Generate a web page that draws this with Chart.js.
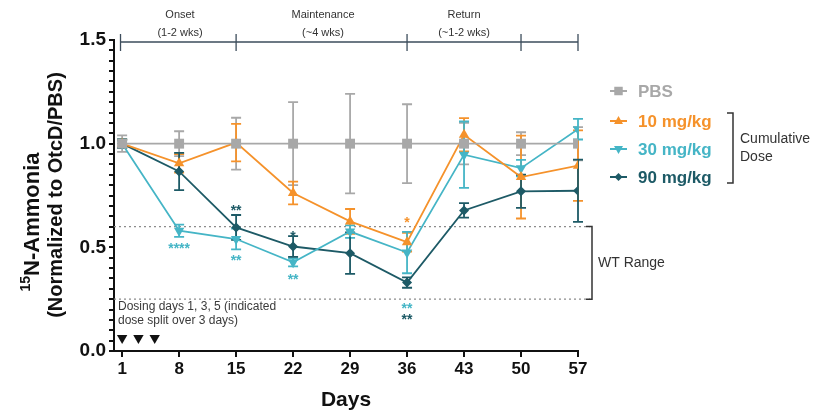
<!DOCTYPE html>
<html lang="en">
<head>
    <meta charset="UTF-8">
    <title>15N-Ammonia over time</title>
    <style>
        html, body { margin: 0; padding: 0; background: #ffffff; }
        canvas { display: block; }
    </style>
</head>
<body>
    <canvas id="ammonia-chart" width="817" height="419"></canvas>

    <script src="https://cdn.jsdelivr.net/npm/chart.js"></script>
    <script>
        // --- data ---
        const days = [1, 8, 15, 22, 29, 36, 43, 50, 57];

        const pbs      = [1.0, 1.0, 1.0, 1.0, 1.0, 1.0, 1.0, 1.0, 1.0];
        const pbsErr   = [0.04, 0.06, 0.125, 0.2, 0.24, 0.19, 0.1, 0.055, 0.08];
        const dose10   = [1.0, 0.905, 1.005, 0.762, 0.625, 0.525, 1.043, 0.839, 0.894];
        const dose10Err = [0.02, 0.045, 0.09, 0.055, 0.06, 0.045, 0.08, 0.2, 0.17];
        const dose30   = [1.0, 0.58, 0.54, 0.428, 0.576, 0.475, 0.947, 0.882, 1.07];
        const dose30Err = [0.02, 0.03, 0.05, 0.02, 0.03, 0.1, 0.16, 0.04, 0.05];
        const dose90   = [1.0, 0.866, 0.596, 0.504, 0.472, 0.33, 0.678, 0.77, 0.773];
        const dose90Err = [0.02, 0.09, 0.06, 0.05, 0.1, 0.025, 0.035, 0.08, 0.15];

        const dosingDays = [1, 3, 5];
        const wtRange = [0.25, 0.6];
        const phaseEdges = [0.8, 15, 36, 50, 57];
        const phaseNames = ['Onset', 'Maintenance', 'Return'];
        const phaseSpans = ['(1-2 wks)', '(~4 wks)', '(~1-2 wks)'];
        const yTicksMajor = [0, 0.5, 1.0, 1.5];

        // significance marks: [day, y value, text, series]
        const stars = [
            [8, 0.51, '****', 'c30'],
            [15, 0.695, '**', 'c90'],
            [15, 0.452, '**', 'c30'],
            [22, 0.57, '*', 'c90'],
            [22, 0.36, '**', 'c30'],
            [36, 0.638, '*', 'c10'],
            [36, 0.22, '**', 'c30'],
            [36, 0.166, '**', 'c90']
        ];

        const colors = { pbs: '#a8a8a8', c10: '#f5922b', c30: '#45b5c6', c90: '#1d5a66' };
        const FONT = '"Liberation Sans", Arial, sans-serif';

        const series = [
            { label: 'PBS', data: pbs, err: pbsErr, color: colors.pbs, style: 'rect', radius: 7, rotation: 0 },
            { label: '10 mg/kg', data: dose10, err: dose10Err, color: colors.c10, style: 'triangle', radius: 6, rotation: 0 },
            { label: '30 mg/kg', data: dose30, err: dose30Err, color: colors.c30, style: 'triangle', radius: 6, rotation: 180 },
            { label: '90 mg/kg', data: dose90, err: dose90Err, color: colors.c90, style: 'rectRot', radius: 5, rotation: 0 }
        ];

        const datasets = series.map(s => ({
            label: s.label,
            data: days.map((d, i) => ({ x: d, y: s.data[i] })),
            borderColor: s.color,
            backgroundColor: s.color,
            borderWidth: 1.8,
            pointStyle: s.style,
            pointRadius: s.radius,
            pointRotation: s.rotation,
            pointBorderWidth: 0,
            tension: 0
        }));
        // dosing arrows along the bottom
        datasets.push({
            label: 'dosing',
            data: dosingDays.map(d => ({ x: d, y: 0.063 })),
            showLine: false,
            pointStyle: 'triangle',
            pointRotation: 180,
            pointRadius: 6,
            pointBorderWidth: 0,
            backgroundColor: '#111',
            borderColor: '#111'
        });

        function marker(ctx, style, x, y, r, rot) {
            ctx.beginPath();
            if (style === 'rect') {
                const h = r * Math.SQRT1_2;
                ctx.rect(x - h, y - h, 2 * h, 2 * h);
            } else if (style === 'rectRot') {
                ctx.moveTo(x, y - r); ctx.lineTo(x + r, y); ctx.lineTo(x, y + r); ctx.lineTo(x - r, y);
            } else {
                const s = rot ? -1 : 1;
                ctx.moveTo(x, y - s * r); ctx.lineTo(x + r * 0.9, y + s * r * 0.6); ctx.lineTo(x - r * 0.9, y + s * r * 0.6);
            }
            ctx.closePath();
            ctx.fill();
        }

        const decorations = {
            id: 'decorations',
            beforeDatasetsDraw(chart) {
                const { ctx, scales: { x, y }, chartArea } = chart;
                ctx.save();
                // WT range dotted lines
                ctx.strokeStyle = '#8c8c8c';
                ctx.lineWidth = 1.3;
                ctx.setLineDash([2, 3]);
                wtRange.forEach(v => {
                    const py = y.getPixelForValue(v);
                    ctx.beginPath(); ctx.moveTo(chartArea.left, py); ctx.lineTo(chartArea.right + 12, py); ctx.stroke();
                });
                ctx.setLineDash([]);
                // error bars
                series.forEach(s => {
                    ctx.strokeStyle = s.color;
                    ctx.lineWidth = 1.8;
                    days.forEach((d, i) => {
                        const px = x.getPixelForValue(d);
                        const top = y.getPixelForValue(s.data[i] + s.err[i]);
                        const bot = y.getPixelForValue(s.data[i] - s.err[i]);
                        ctx.beginPath();
                        ctx.moveTo(px, top); ctx.lineTo(px, bot);
                        ctx.moveTo(px - 5, top); ctx.lineTo(px + 5, top);
                        ctx.moveTo(px - 5, bot); ctx.lineTo(px + 5, bot);
                        ctx.stroke();
                    });
                });
                ctx.restore();
            },
            afterDraw(chart) {
                const { ctx, scales: { x, y }, chartArea } = chart;
                ctx.save();

                // phase bracket on top
                const by = 42;
                ctx.strokeStyle = '#3d4d5c';
                ctx.lineWidth = 1.3;
                ctx.beginPath();
                ctx.moveTo(x.getPixelForValue(phaseEdges[0]), by);
                ctx.lineTo(x.getPixelForValue(phaseEdges[phaseEdges.length - 1]), by);
                phaseEdges.forEach(e => {
                    const px = x.getPixelForValue(e);
                    ctx.moveTo(px, by - 8); ctx.lineTo(px, by + 9);
                });
                ctx.stroke();
                ctx.fillStyle = '#333';
                ctx.font = '11px ' + FONT;
                ctx.textAlign = 'center';
                ctx.textBaseline = 'middle';
                const centers = [180, 323, 464];
                phaseNames.forEach((n, i) => {
                    ctx.fillText(n, centers[i], 15);
                    ctx.fillText(phaseSpans[i], centers[i], 33);
                });

                // significance stars
                ctx.font = 'bold 14px ' + FONT;
                stars.forEach(([d, v, t, k]) => {
                    ctx.fillStyle = colors[k];
                    ctx.fillText(t, x.getPixelForValue(d), y.getPixelForValue(v) + 4);
                });

                // dosing note
                ctx.fillStyle = '#3a3a3a';
                ctx.font = '12px ' + FONT;
                ctx.textAlign = 'left';
                ctx.fillText('Dosing days 1, 3, 5 (indicated', 118, 307);
                ctx.fillText('dose split over 3 days)', 118, 321);

                // WT range bracket
                const y1 = y.getPixelForValue(wtRange[1]), y0 = y.getPixelForValue(wtRange[0]);
                ctx.strokeStyle = '#333';
                ctx.lineWidth = 1.5;
                ctx.beginPath();
                ctx.moveTo(586, y1); ctx.lineTo(592, y1); ctx.lineTo(592, y0); ctx.lineTo(586, y0);
                ctx.stroke();
                ctx.fillStyle = '#333';
                ctx.font = '14px ' + FONT;
                ctx.fillText('WT Range', 598, (y0 + y1) / 2);

                // legend
                const ly = [91, 121, 149, 177];
                series.forEach((s, i) => {
                    ctx.strokeStyle = s.color;
                    ctx.fillStyle = s.color;
                    ctx.lineWidth = 2;
                    ctx.beginPath(); ctx.moveTo(610, ly[i]); ctx.lineTo(627, ly[i]); ctx.stroke();
                    marker(ctx, s.style, 618.5, ly[i], s.radius - 1, s.rotation);
                    ctx.font = 'bold 17px ' + FONT;
                    ctx.fillText(s.label, 638, ly[i] + 1);
                });
                ctx.strokeStyle = '#333';
                ctx.lineWidth = 1.5;
                ctx.beginPath();
                ctx.moveTo(727, 113); ctx.lineTo(733, 113); ctx.lineTo(733, 183); ctx.lineTo(727, 183);
                ctx.stroke();
                ctx.fillStyle = '#333';
                ctx.font = '14px ' + FONT;
                ctx.fillText('Cumulative', 740, 139);
                ctx.fillText('Dose', 740, 157);

                // axis titles
                ctx.fillStyle = '#111';
                ctx.textAlign = 'center';
                ctx.font = 'bold 21px ' + FONT;
                ctx.fillText('Days', (chartArea.left + chartArea.right) / 2, 400);

                ctx.save();
                ctx.translate(33, 222);
                ctx.rotate(-Math.PI / 2);
                const main = 'N-Ammonia';
                ctx.font = 'bold 14px ' + FONT;
                const supW = ctx.measureText('15').width;
                ctx.font = 'bold 22px ' + FONT;
                const mainW = ctx.measureText(main).width;
                const start = -(supW + mainW) / 2;
                ctx.textAlign = 'left';
                ctx.font = 'bold 14px ' + FONT;
                ctx.fillText('15', start, -7);
                ctx.font = 'bold 22px ' + FONT;
                ctx.fillText(main, start + supW, 0);
                ctx.restore();

                ctx.save();
                ctx.translate(56, 195);
                ctx.rotate(-Math.PI / 2);
                ctx.font = 'bold 20px ' + FONT;
                ctx.textAlign = 'center';
                ctx.fillText('(Normalized to OtcD/PBS)', 0, 0);
                ctx.restore();

                ctx.restore();
            }
        };

        const ctx = document.getElementById('ammonia-chart').getContext('2d');
        const ammoniaChart = new Chart(ctx, {
            type: 'line',
            data: { datasets: datasets },
            options: {
                responsive: false,
                animation: false,
                layout: { padding: { top: 40, right: 239, left: 0, bottom: 0 } },
                plugins: { legend: { display: false }, tooltip: { enabled: false } },
                scales: {
                    x: {
                        type: 'linear',
                        min: 0,
                        max: 57,
                        afterBuildTicks: s => { s.ticks = days.map(v => ({ value: v })); },
                        afterFit: s => { s.height = 68; },
                        ticks: { color: '#111', font: { family: FONT, size: 17, weight: 'bold' }, padding: 2, autoSkip: false, maxRotation: 0 },
                        grid: { drawOnChartArea: false, drawTicks: true, tickLength: 6, color: '#111', lineWidth: 2 },
                        border: { color: '#111', width: 2 }
                    },
                    y: {
                        min: 0,
                        max: 1.5,
                        afterFit: s => { s.width = 114; },
                        ticks: {
                            stepSize: 0.05,
                            autoSkip: false,
                            color: '#111',
                            font: { family: FONT, size: 19, weight: 'bold' },
                            padding: 3,
                            callback: v => yTicksMajor.some(m => Math.abs(m - v) < 1e-6) ? v.toFixed(1) : ''
                        },
                        grid: { drawOnChartArea: false, drawTicks: true, tickLength: 5, color: '#111', lineWidth: 2 },
                        border: { color: '#111', width: 2 }
                    }
                }
            },
            plugins: [decorations]
        });
    </script>
</body>
</html>
